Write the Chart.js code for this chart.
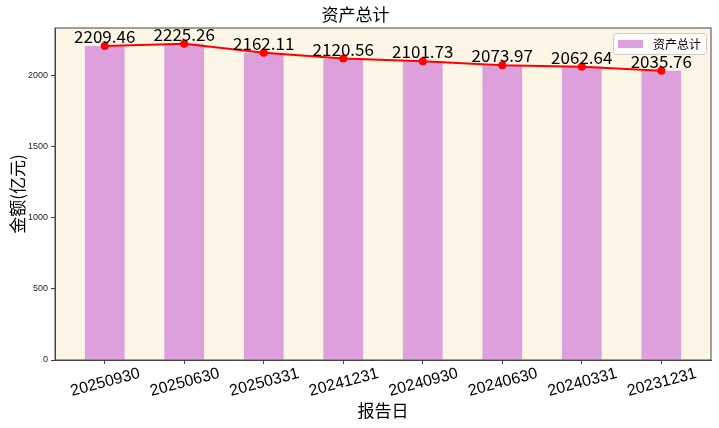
<!DOCTYPE html>
<html>
<head>
<meta charset="utf-8">
<script src="https://cdn.jsdelivr.net/npm/chart.js@4"></script>
<style>
  html, body { margin: 0; padding: 0; background: #fff; }
</style>
</head>
<body>
<canvas id="chart" width="719" height="428"></canvas>
<script>
const reportDates = ["20250930", "20250630", "20250331", "20241231", "20240930", "20240630", "20240331", "20231231"];
const totalAssets = [2209.46, 2225.26, 2162.11, 2120.56, 2101.73, 2073.97, 2062.64, 2035.76];
const yTicks = [0, 500, 1000, 1500, 2000];

const cjk = "'Noto Sans CJK SC', 'Noto Sans', sans-serif";
const latin = "'Liberation Sans', Arial, sans-serif";

// plot background + frame
const plotFrame = {
    id: "plotFrame",
    beforeDraw(chart) {
        const { ctx, chartArea: a } = chart;
        ctx.save();
        ctx.fillStyle = "#FDF5E6";
        ctx.fillRect(a.left, a.top, a.right - a.left, a.bottom - a.top);
        ctx.restore();
    },
    afterDraw(chart) {
        const { ctx, chartArea: a } = chart;
        ctx.save();
        ctx.strokeStyle = "#444";
        ctx.lineWidth = 1;
        ctx.strokeRect(a.left, a.top, a.right - a.left, a.bottom - a.top);
        ctx.restore();
    }
};

// value labels above the line points
const valueLabels = {
    id: "valueLabels",
    afterDatasetsDraw(chart) {
        const { ctx } = chart;
        const meta = chart.getDatasetMeta(1);
        ctx.save();
        ctx.font = "17px " + cjk;
        ctx.fillStyle = "#000";
        ctx.textAlign = "center";
        ctx.textBaseline = "alphabetic";
        meta.data.forEach((pt, i) => {
            ctx.fillText(totalAssets[i].toFixed(2), pt.x, pt.y - 3);
        });
        ctx.restore();
    }
};

// matplotlib-like legend box in the upper right corner of the plot
const boxLegend = {
    id: "boxLegend",
    afterDraw(chart) {
        const { ctx, chartArea: a } = chart;
        const ds = chart.data.datasets[0];
        const w = 93, h = 21;
        const x = a.right - 5 - w, y = a.top + 5;
        ctx.save();
        ctx.fillStyle = "rgba(255,255,255,0.8)";
        ctx.strokeStyle = "#cccccc";
        ctx.lineWidth = 1;
        ctx.beginPath();
        ctx.roundRect(x + 0.5, y + 0.5, w, h, 3);
        ctx.fill();
        ctx.stroke();
        ctx.fillStyle = ds.backgroundColor;
        ctx.fillRect(x + 5, y + 7, 25, 8);
        ctx.fillStyle = "#000";
        ctx.font = "12px " + cjk;
        ctx.textBaseline = "middle";
        ctx.fillText(ds.label, x + 40, y + h / 2 + 1);
        ctx.restore();
    }
};

new Chart(document.getElementById("chart"), {
    data: {
        datasets: [{
            type: "bar",
            label: "资产总计",
            data: totalAssets.map((v, i) => ({ x: i, y: v })),
            backgroundColor: "#DDA0DD",
            barPercentage: 1,
            categoryPercentage: 0.5,
            order: 2
        }, {
            type: "line",
            label: "line",
            data: totalAssets.map((v, i) => ({ x: i, y: v })),
            borderColor: "#ff0000",
            backgroundColor: "#ff0000",
            borderWidth: 2,
            pointRadius: 4,
            pointBackgroundColor: "#ff0000",
            pointBorderWidth: 0,
            tension: 0,
            order: 1
        }]
    },
    options: {
        responsive: false,
        animation: false,
        layout: { padding: { left: 0, right: 8, top: 0, bottom: 0 } },
        plugins: {
            legend: { display: false },
            tooltip: { enabled: false },
            title: {
                display: true,
                text: "资产总计",
                color: "#000",
                font: { family: cjk, size: 17, weight: "normal" },
                padding: { top: 4, bottom: 3.6 }
            }
        },
        scales: {
            x: {
                type: "linear",
                offset: false,
                min: -0.625,
                max: 7.625,
                afterBuildTicks: s => { s.ticks = reportDates.map((_, i) => ({ value: i })); },
                afterFit: s => { s.height = 68; },
                ticks: {
                    callback: (v, i) => reportDates[i],
                    minRotation: 15,
                    maxRotation: 15,
                    autoSkip: false,
                    labelOffset: 35,
                    padding: 0,
                    color: "#000",
                    font: { family: latin, size: 16 }
                },
                grid: { drawOnChartArea: false, drawTicks: true, tickLength: 4, color: "#444", offset: false },
                border: { display: true, color: "#444" },
                title: {
                    display: true,
                    text: "报告日",
                    color: "#000",
                    font: { family: cjk, size: 17 },
                    padding: { top: 0, bottom: 7 }
                }
            },
            y: {
                min: 0,
                max: 2336,
                afterBuildTicks: s => { s.ticks = yTicks.map(v => ({ value: v })); },
                afterFit: s => { s.width = 55; },
                ticks: {
                    callback: v => String(v),
                    padding: 3,
                    color: "#222",
                    font: { family: latin, size: 9 }
                },
                grid: { drawOnChartArea: false, drawTicks: true, tickLength: 4, color: "#444" },
                border: { display: true, color: "#444" },
                title: {
                    display: true,
                    text: "金额(亿元)",
                    color: "#000",
                    font: { family: cjk, size: 17 },
                    padding: { top: 7, bottom: 0 }
                }
            }
        }
    },
    plugins: [plotFrame, valueLabels, boxLegend]
});
</script>
</body>
</html>
